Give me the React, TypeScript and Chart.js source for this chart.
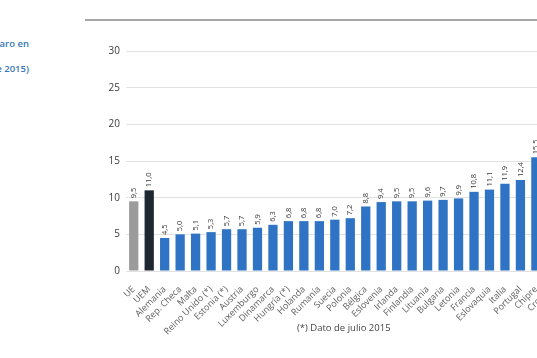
import React, { useEffect, useRef } from "react";
import { Chart, registerables } from "chart.js";

Chart.register(...registerables);

const categories: string[] = [
  "UE", "UEM", "Alemania", "Rep. Checa", "Malta", "Reino Unido (*)", "Estonia (*)",
  "Austria", "Luxemburgo", "Dinamarca", "Hungría (*)", "Holanda", "Rumanía", "Suecia",
  "Polonia", "Bélgica", "Eslovenia", "Irlanda", "Finlandia", "Lituania", "Bulgaria",
  "Letonia", "Francia", "Eslovaquia", "Italia", "Portugal", "Chipre", "Croacia",
];

const values: number[] = [
  9.5, 11.0, 4.5, 5.0, 5.1, 5.3, 5.7, 5.7, 5.9, 6.3, 6.8, 6.8, 6.8, 7.0, 7.2, 8.8,
  9.4, 9.5, 9.5, 9.6, 9.7, 9.9, 10.8, 11.1, 11.9, 12.4, 15.5, 16.2,
];

const yTicks: number[] = [0, 5, 10, 15, 20, 25, 30];

const titleLines: string[] = ["Tasa de paro en", "(agosto de 2015)"];
const footnote = "(*) Dato de julio 2015";

const barColors = categories.map((c) =>
  c === "UE" ? "#9b9b9b" : c === "UEM" ? "#1e2731" : "#2f74c4"
);

const fmt = (v: number) => v.toFixed(1).replace(".", ",");

const valueLabelPlugin = {
  id: "valueLabels",
  afterDatasetsDraw(chart: any) {
    const ctx = chart.ctx;
    const meta = chart.getDatasetMeta(0);
    ctx.save();
    ctx.fillStyle = "#3a3a3a";
    ctx.font = "7.5px 'Open Sans', sans-serif";
    ctx.textAlign = "left";
    ctx.textBaseline = "middle";
    meta.data.forEach((bar: any, i: number) => {
      ctx.save();
      ctx.translate(bar.x, bar.y - 3);
      ctx.rotate(-Math.PI / 2);
      ctx.fillText(fmt(values[i]), 0, 0);
      ctx.restore();
    });
    ctx.restore();
  },
};

export default function App() {
  const ref = useRef<HTMLCanvasElement | null>(null);

  useEffect(() => {
    if (!ref.current) return;
    const chart = new Chart(ref.current, {
      type: "bar",
      data: {
        labels: categories,
        datasets: [
          {
            data: values,
            backgroundColor: barColors,
            barPercentage: 0.6,
            categoryPercentage: 1,
          },
        ],
      },
      options: {
        animation: false,
        responsive: false,
        layout: { padding: { top: 51, left: 0, right: 0, bottom: 0 } },
        plugins: { legend: { display: false }, tooltip: { enabled: false } },
        scales: {
          x: {
            grid: { display: false },
            border: { display: false },
            ticks: {
              autoSkip: false,
              minRotation: 45,
              maxRotation: 45,
              padding: 5,
              color: "#606060",
              font: { family: "'Open Sans', sans-serif", size: 9 },
            },
            afterFit: (s: any) => {
              s.height = 87;
            },
          },
          y: {
            min: 0,
            max: 30,
            afterBuildTicks: (s: any) => {
              s.ticks = yTicks.map((v) => ({ value: v }));
            },
            grid: { color: "#e2e2e2", drawTicks: false, lineWidth: 1 },
            border: { display: false },
            ticks: {
              padding: 6,
              color: "#3a3a3a",
              font: { family: "'Open Sans', sans-serif", size: 10 },
            },
            afterFit: (s: any) => {
              s.width = 126;
            },
          },
        },
      },
      plugins: [valueLabelPlugin],
    });
    return () => chart.destroy();
  }, []);

  return (
    <div
      style={{
        position: "fixed",
        left: 0,
        top: 0,
        width: 537,
        height: 358,
        overflow: "hidden",
        background: "#fff",
      }}
    >
      <div
        style={{
          position: "absolute",
          left: -100,
          top: 31,
          width: 129,
          textAlign: "right",
          color: "#3576b9",
          fontFamily: "'Open Sans', sans-serif",
          fontWeight: 600,
          fontSize: 9.5,
          lineHeight: "25px",
          whiteSpace: "nowrap",
        }}
      >
        {titleLines.map((t, i) => (
          <div key={i}>{t}</div>
        ))}
      </div>
      <div
        style={{
          position: "absolute",
          left: 85,
          top: 19,
          width: 460,
          height: 2,
          background: "#a6a6a6",
        }}
      />
      <canvas
        ref={ref}
        width={564}
        height={358}
        style={{ position: "absolute", left: 0, top: 0, width: 564, height: 358 }}
      />
      <div
        style={{
          position: "absolute",
          left: 297,
          top: 321,
          color: "#444",
          fontFamily: "'Open Sans', sans-serif",
          fontSize: 9.5,
          whiteSpace: "nowrap",
        }}
      >
        {footnote}
      </div>
    </div>
  );
}
